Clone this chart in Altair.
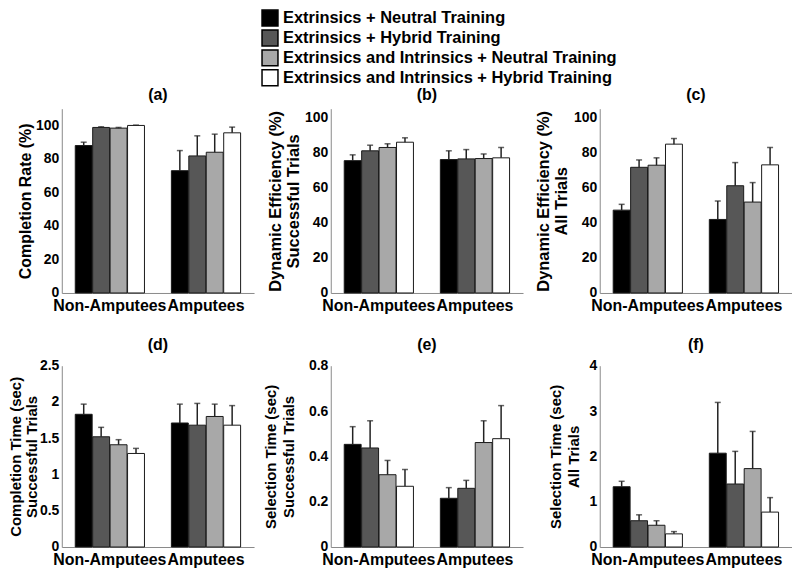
import altair as alt
import pandas as pd

groups = ["Non-Amputees", "Amputees"]
series = [
    "Extrinsics + Neutral Training",
    "Extrinsics + Hybrid Training",
    "Extrinsics and Intrinsics + Neutral Training",
    "Extrinsics and Intrinsics + Hybrid Training",
]
colors = ["#000000", "#575757", "#a8a8a8", "#ffffff"]

# (a) Completion rate (%)
a_non_mean = [88.0, 98.8, 98.4, 100.0]
a_non_err = [2.0, 0.4, 0.4, 0.2]
a_amp_mean = [73.0, 81.8, 84.0, 95.6]
a_amp_err = [12.0, 12.0, 10.8, 3.4]
# (b) Dynamic efficiency, successful trials (%)
b_non_mean = [75.4, 81.0, 82.9, 85.9]
b_non_err = [3.3, 3.2, 2.1, 2.5]
b_amp_mean = [76.0, 76.4, 76.6, 77.0]
b_amp_err = [5.0, 5.3, 2.6, 5.9]
# (c) Dynamic efficiency, all trials (%)
c_non_mean = [47.2, 71.6, 72.8, 84.8]
c_non_err = [3.3, 4.2, 4.2, 3.2]
c_amp_mean = [41.9, 61.1, 51.8, 73.0]
c_amp_err = [10.5, 13.2, 11.1, 9.9]
# (d) Completion time, successful trials (sec)
d_non_mean = [1.83, 1.52, 1.41, 1.29]
d_non_err = [0.14, 0.13, 0.07, 0.07]
d_amp_mean = [1.71, 1.68, 1.80, 1.68]
d_amp_err = [0.26, 0.30, 0.17, 0.27]
# (e) Selection time, successful trials (sec)
e_non_mean = [0.453, 0.437, 0.319, 0.268]
e_non_err = [0.078, 0.120, 0.063, 0.074]
e_amp_mean = [0.215, 0.259, 0.461, 0.478]
e_amp_err = [0.047, 0.035, 0.096, 0.146]
# (f) Selection time, all trials (sec)
f_non_mean = [1.33, 0.58, 0.48, 0.29]
f_non_err = [0.12, 0.13, 0.10, 0.05]
f_amp_mean = [2.07, 1.39, 1.73, 0.77]
f_amp_err = [1.12, 0.72, 0.82, 0.32]

panel_data = {
    "a": (a_non_mean, a_non_err, a_amp_mean, a_amp_err),
    "b": (b_non_mean, b_non_err, b_amp_mean, b_amp_err),
    "c": (c_non_mean, c_non_err, c_amp_mean, c_amp_err),
    "d": (d_non_mean, d_non_err, d_amp_mean, d_amp_err),
    "e": (e_non_mean, e_non_err, e_amp_mean, e_amp_err),
    "f": (f_non_mean, f_non_err, f_amp_mean, f_amp_err),
}

records = []
for pid, (nm, ne, am, ae) in panel_data.items():
    for g, means, errs in ((groups[0], nm, ne), (groups[1], am, ae)):
        for s, m, e in zip(series, means, errs):
            records.append({"panel": pid, "group": g, "series": s, "mean": m, "top": m + e})
df = pd.DataFrame(records)

FONT = "Liberation Sans"

legend = alt.Legend(
    title=None, orient="none", legendX=200, legendY=-100,
    symbolType="square", symbolSize=256, symbolStrokeColor="black",
    symbolStrokeWidth=1.5, labelFontSize=16.5, labelFontWeight="bold",
    labelFont=FONT, labelColor="black", labelLimit=500, labelOffset=4,
    rowPadding=-6, padding=0,
)


def panel(pid, ytitle, tsize, tline, tpad, domain, ticks, fmt, height):
    base = alt.Chart(df).transform_filter(alt.datum.panel == pid)
    x = alt.X("group:N", sort=groups,
              scale=alt.Scale(paddingInner=0.28, paddingOuter=0.14),
              axis=alt.Axis(title=None, labelAngle=0))
    xo = alt.XOffset("series:N", sort=series, scale=alt.Scale(paddingInner=0.03))

    def ya(field):
        return alt.Y(field, scale=alt.Scale(domain=domain, nice=False, zero=True),
                     axis=alt.Axis(title=ytitle, values=ticks, format=fmt,
                                   titleFontSize=tsize, titleLineHeight=tline,
                                   titlePadding=tpad))

    bars = base.mark_bar(stroke="#1a1a1a", strokeWidth=1).encode(
        x=x, xOffset=xo, y=ya("mean:Q"),
        fill=alt.Fill("series:N", sort=series,
                      scale=alt.Scale(domain=series, range=colors), legend=legend),
    )
    err = base.mark_rule(color="#222222", strokeWidth=1.5).encode(
        x=x, xOffset=xo, y=ya("mean:Q"), y2="top:Q")
    cap = base.mark_tick(orient="horizontal", size=6, thickness=1.5, color="#222222").encode(
        x=x, xOffset=xo, y=ya("top:Q"))
    return alt.layer(bars, err, cap).properties(
        width=193, height=height,
        title=alt.Title(f"({pid})"))


pct_ticks = [0, 20, 40, 60, 80, 100]
pa = panel("a", "Completion Rate (%)", 16, 18, 2, [0, 110], pct_ticks, "d", 185)
pb = panel("b", ["Dynamic Efficiency (%)", "Successful Trials"], 16.5, 18, 3, [0, 105], pct_ticks, "d", 185)
pc = panel("c", ["Dynamic Efficiency (%)", "All Trials"], 16.5, 18, 4, [0, 105], pct_ticks, "d", 185)
pd_ = panel("d", ["Completion Time (sec)", "Successful Trials"], 15, 16, 0, [0, 2.5], [0, 0.5, 1, 1.5, 2, 2.5], ".1~f", 182)
pe = panel("e", ["Selection Time (sec)", "Successful Trials"], 15, 18, 12, [0, 0.8], [0, 0.2, 0.4, 0.6, 0.8], ".1~f", 182)
pf = panel("f", ["Selection Time (sec)", "All Trials"], 15, 18, 8, [0, 4], [0, 1, 2, 3, 4], "d", 182)

chart = alt.concat(
    pa, pb, pc, pd_, pe, pf, columns=3,
    spacing={"row": 73, "column": 77},
    bounds="flush",
).resolve_scale(x="independent", y="independent", fill="shared").properties(
    padding={"left": 0, "top": 0, "right": 0, "bottom": 0},
    background="white",
).configure(font=FONT).configure_view(stroke=None).configure_axis(
    domainColor="#8a8a8a", domainWidth=1, ticks=False, grid=False,
    labelColor="black", labelFontWeight="bold", labelFont=FONT,
    titleColor="black", titleFontWeight="bold", titleFont=FONT,
).configure_axisY(
    labelFontSize=14, labelPadding=3,
).configure_axisX(
    labelFontSize=16, labelPadding=5,
).configure_title(
    fontSize=16, fontWeight="bold", offset=6, color="black", font=FONT,
)

chart.save("out.html", embed_options={"renderer": "svg", "actions": False})
